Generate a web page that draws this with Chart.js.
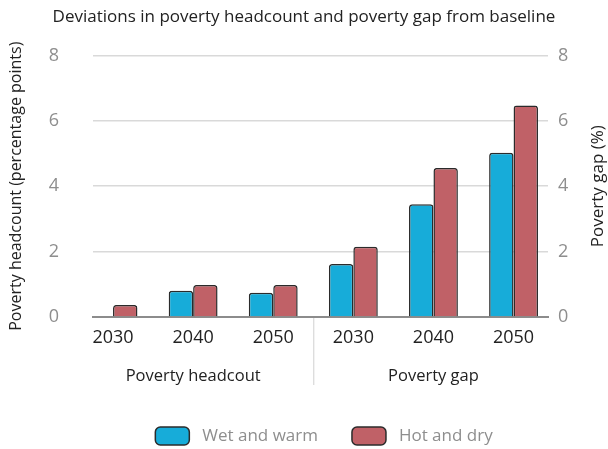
<!DOCTYPE html>
<html>
<head>
<meta charset="utf-8">
<script src="https://cdn.jsdelivr.net/npm/chart.js@4.4.1/dist/chart.umd.min.js"></script>
<style>
  body { margin: 0; background: #fff; }
  canvas { display: block; }
</style>
</head>
<body>
<canvas id="povertyChart" width="608" height="449"></canvas>
<script>
// Chart data
const years = ['2030', '2040', '2050', '2030', '2040', '2050'];
const groups = ['Poverty headcout', 'Poverty gap'];
const groupCenters = [1, 4];
const wetAndWarm = [0, 0.8, 0.74, 1.62, 3.45, 5.02];
const hotAndDry = [0.37, 0.98, 0.98, 2.15, 4.56, 6.47];
const yTicks = [0, 2, 4, 6, 8];

const FONT = "'Open Sans', sans-serif";
const DARK = '#222222';
const GREY = '#8e8e8e';

const toPoints = arr => arr.map((v, i) => ({ x: i, y: v }));

// Group labels under the years, divider between the two panels, right axis title
const groupLabels = {
    id: 'groupLabels',
    afterLayout(chart) {
        // nudge the legend a little right of centre
        chart.legend.left += 20;
        chart.legend.right += 20;
    },
    afterDraw(chart) {
        const ctx = chart.ctx;
        const x = chart.scales.x;
        const area = chart.chartArea;
        ctx.save();
        const sep = x.getPixelForValue(2.5);
        ctx.strokeStyle = '#d0d0d0';
        ctx.lineWidth = 1;
        ctx.beginPath();
        ctx.moveTo(sep + 0.5, area.bottom + 1);
        ctx.lineTo(sep + 0.5, area.bottom + 68);
        ctx.stroke();

        ctx.fillStyle = DARK;
        ctx.font = '16.5px ' + FONT;
        ctx.textAlign = 'center';
        ctx.textBaseline = 'middle';
        groups.forEach((g, i) => {
            ctx.fillText(g, x.getPixelForValue(groupCenters[i]), area.bottom + 59);
        });

        const y1 = chart.scales.y1;
        ctx.font = '17px ' + FONT;
        ctx.translate(y1.right - 10, (area.top + area.bottom) / 2);
        ctx.rotate(-Math.PI / 2);
        ctx.fillText('Poverty gap (%)', 0, 0);
        ctx.restore();
    }
};

const barStyle = {
    borderColor: '#2b2b2b',
    borderWidth: 1.5,
    borderRadius: 3,
    borderSkipped: 'bottom',
    barPercentage: 1.0,
    categoryPercentage: 0.61
};

new Chart(document.getElementById('povertyChart').getContext('2d'), {
    type: 'bar',
    data: {
        datasets: [
            Object.assign({
                label: 'Wet and warm',
                data: toPoints(wetAndWarm),
                backgroundColor: '#17acd9'
            }, barStyle),
            Object.assign({
                label: 'Hot and dry',
                data: toPoints(hotAndDry),
                backgroundColor: '#c06167'
            }, barStyle)
        ]
    },
    options: {
        responsive: false,
        devicePixelRatio: 1,
        animation: false,
        layout: { padding: 0 },
        scales: {
            x: {
                type: 'linear',
                offset: false,
                min: -0.25,
                max: 5.43,
                afterFit: scale => { scale.height = 76; },
                grid: { drawOnChartArea: false, drawTicks: false },
                border: { display: true, color: '#8c8c8c', width: 2 },
                ticks: {
                    stepSize: 1,
                    includeBounds: false,
                    autoSkip: false,
                    maxRotation: 0,
                    padding: 10,
                    color: DARK,
                    font: { family: FONT, size: 18 },
                    callback: v => years[v] || ''
                }
            },
            y: {
                position: 'left',
                min: 0,
                max: 8,
                afterFit: scale => { scale.width = 93; },
                afterBuildTicks: scale => { scale.ticks = yTicks.map(v => ({ value: v })); },
                grid: { color: '#d9d9d9', lineWidth: 1.5, drawTicks: false },
                border: { display: false },
                ticks: {
                    padding: 34,
                    color: GREY,
                    font: { family: FONT, size: 18 }
                },
                title: {
                    display: true,
                    text: 'Poverty headcount (percentage points)',
                    color: DARK,
                    font: { family: FONT, size: 16 },
                    padding: { top: 7, bottom: 0 }
                }
            },
            y1: {
                position: 'right',
                min: 0,
                max: 8,
                afterFit: scale => { scale.width = 60; },
                afterBuildTicks: scale => { scale.ticks = yTicks.map(v => ({ value: v })); },
                grid: { drawOnChartArea: false, drawTicks: false },
                border: { display: false },
                ticks: {
                    padding: 10,
                    color: GREY,
                    font: { family: FONT, size: 18 }
                }
            }
        },
        plugins: {
            title: {
                display: true,
                text: 'Deviations in poverty headcount and poverty gap from baseline',
                color: DARK,
                font: { family: FONT, size: 17, weight: 'normal' },
                padding: { top: 7, bottom: 28 }
            },
            legend: {
                position: 'bottom',
                maxHeight: 56,
                labels: {
                    boxWidth: 34,
                    boxHeight: 18,
                    useBorderRadius: true,
                    borderRadius: 5,
                    padding: 34,
                    color: GREY,
                    font: { family: FONT, size: 17 },
                    // a space before the text widens the gap after the swatch
                    generateLabels: chart => Chart.defaults.plugins.legend.labels.generateLabels(chart)
                        .map(item => Object.assign(item, { text: ' ' + item.text }))
                }
            },
            tooltip: { enabled: false }
        }
    },
    plugins: [groupLabels]
});
</script>
</body>
</html>
